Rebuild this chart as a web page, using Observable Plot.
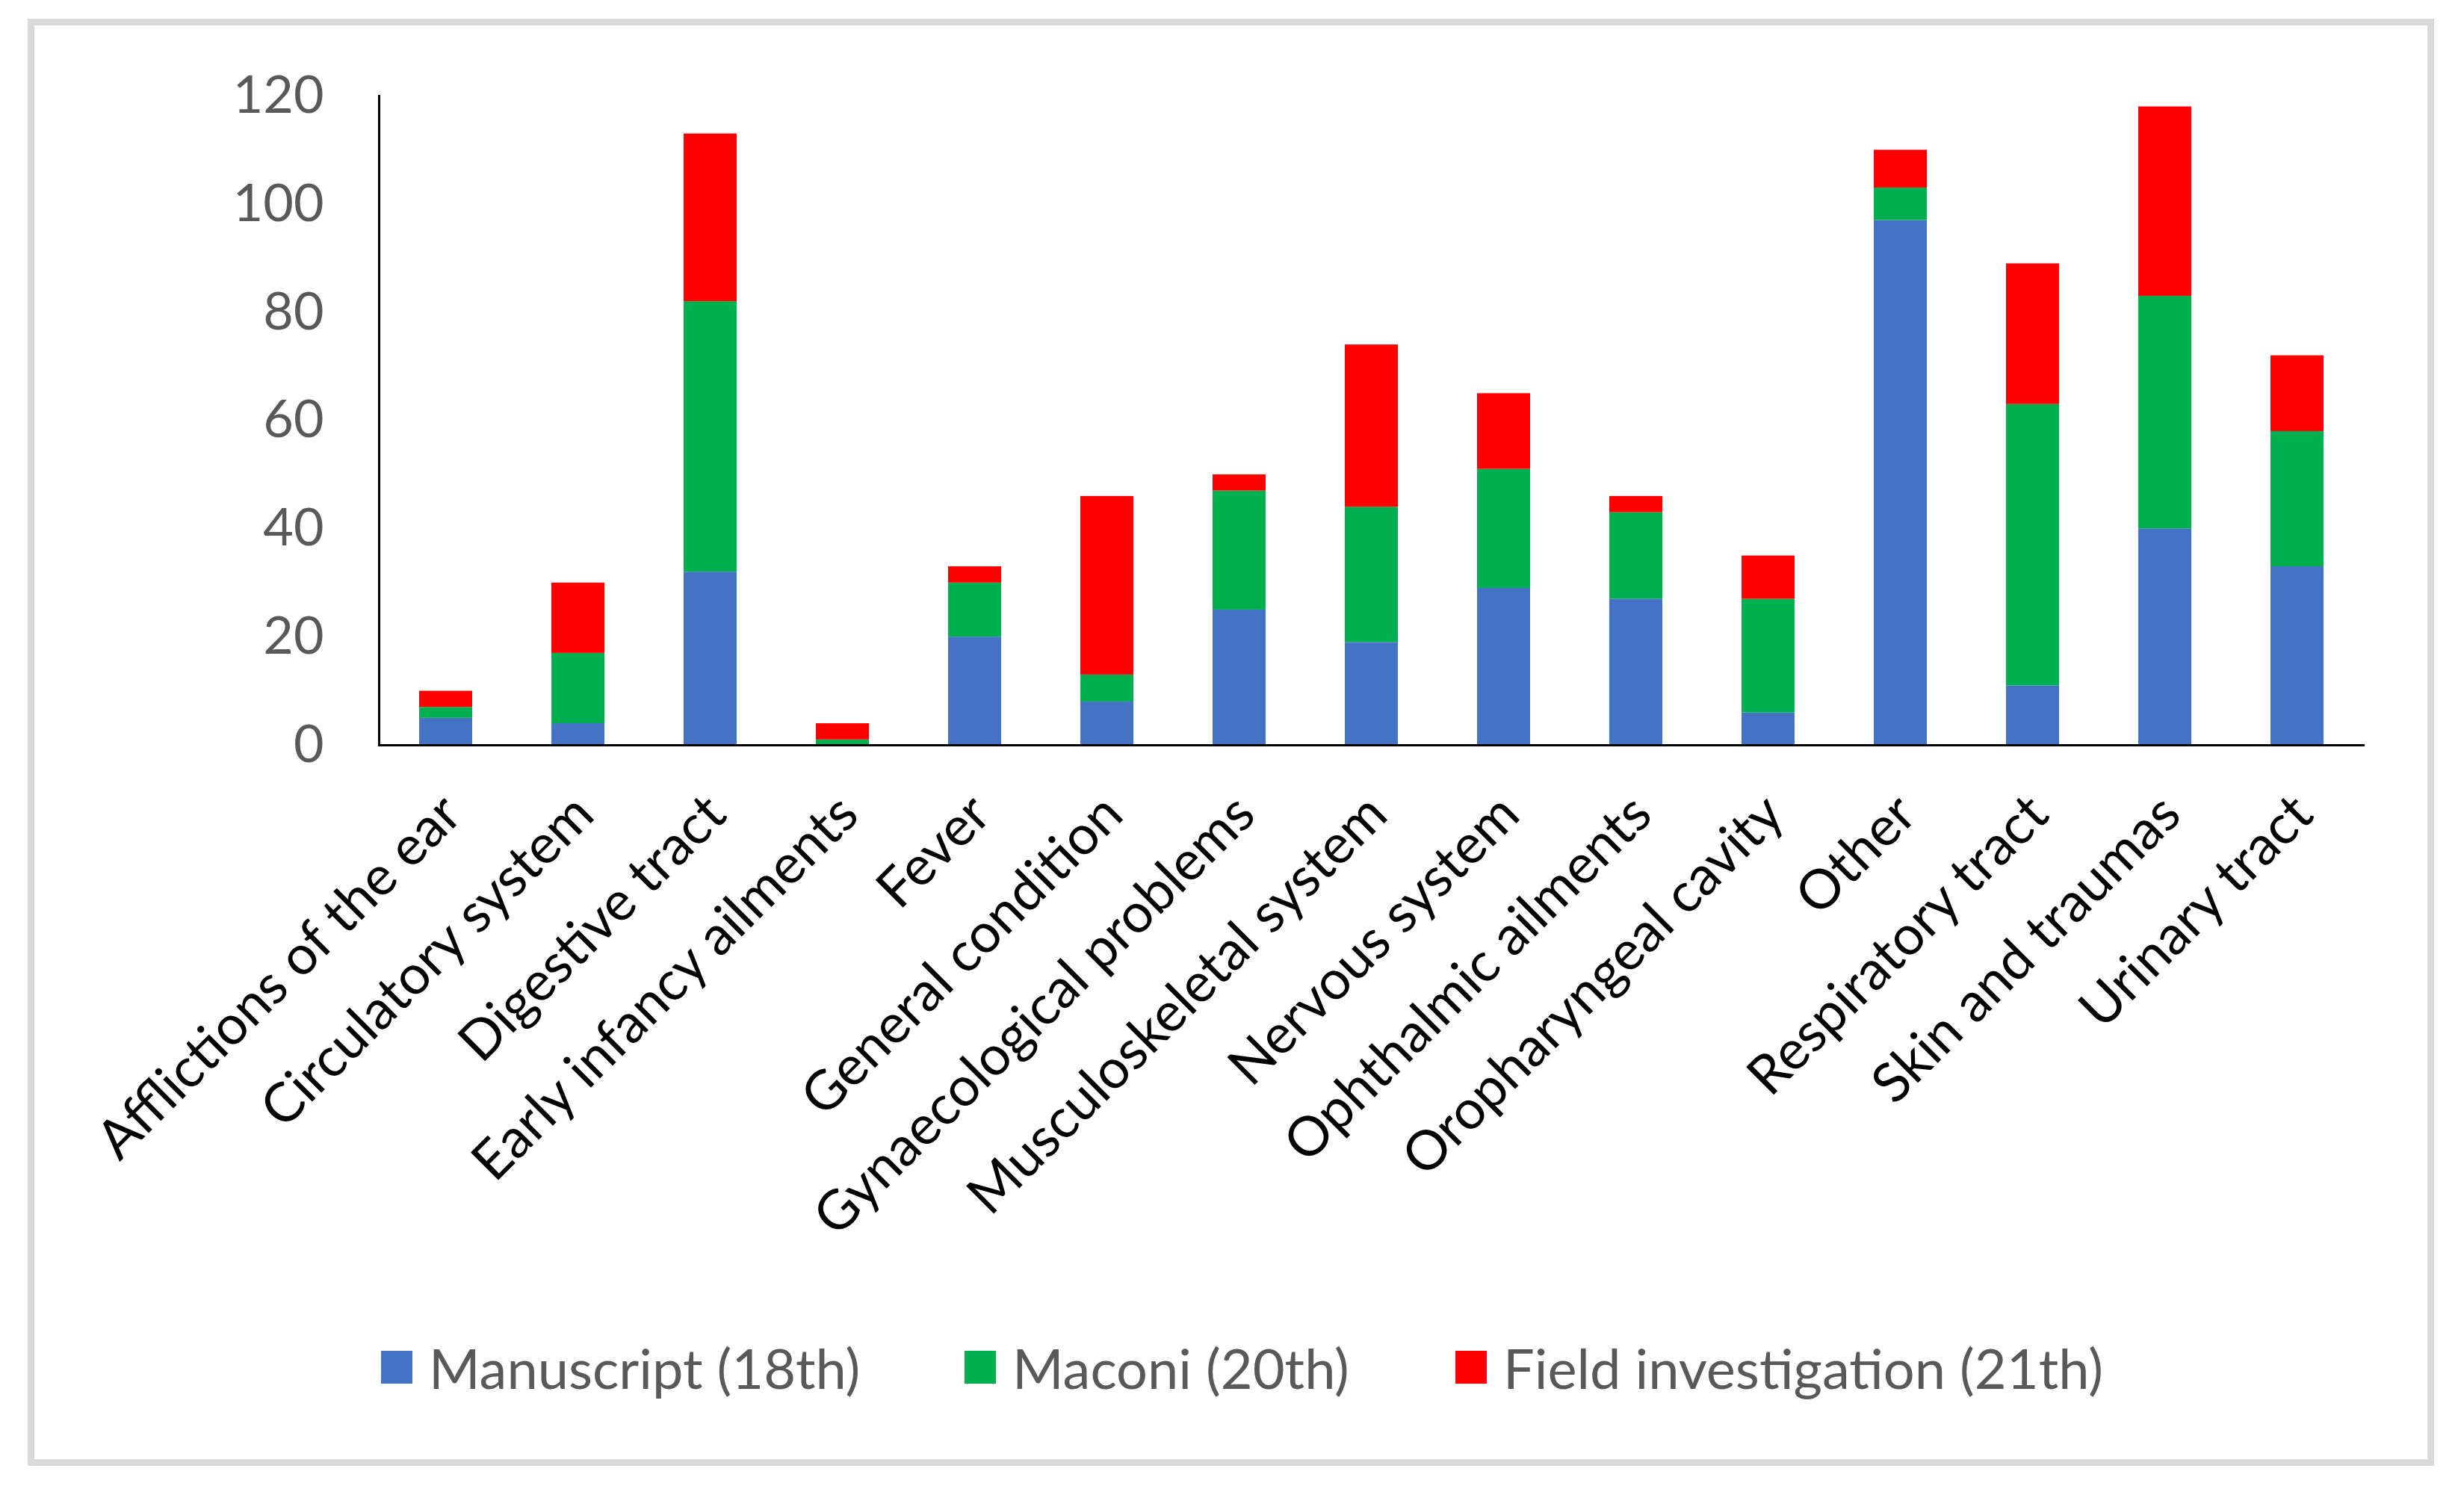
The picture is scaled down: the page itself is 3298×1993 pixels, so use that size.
<!DOCTYPE html>
<html>
<head>
<meta charset="utf-8">
<script src="https://cdn.jsdelivr.net/npm/d3@7"></script>
<script src="https://cdn.jsdelivr.net/npm/@observablehq/plot@0.6"></script>
<style>
  html, body { margin: 0; padding: 0; background: #fff; }
  #page { position: relative; width: 3298px; height: 1993px; overflow: hidden; font-family: Lato, "Open Sans", sans-serif; }
  #frame { position: absolute; left: 37px; top: 25px; width: 3221px; height: 1937px; box-sizing: border-box; border: 9px solid #d9d9d9; }
  #chart { position: absolute; left: 0; top: 0; }
  .leg { position: absolute; top: 1786px; height: 88px; display: flex; align-items: center; font-size: 74px; color: #595959; white-space: nowrap; }
  .sw { width: 42px; height: 44px; margin-right: 22px; }
</style>
</head>
<body>
<div id="page">
  <div id="frame"></div>
  <div id="chart"></div>
  <div id="legend"></div>
</div>
<script>
const categories = [
  "Afflictions of the ear", "Circulatory system", "Digestive tract", "Early infancy ailments",
  "Fever", "General condition", "Gynaecological problems", "Musculoskeletal system",
  "Nervous system", "Ophthalmic ailments", "Oropharyngeal cavity", "Other",
  "Respiratory tract", "Skin and traumas", "Urinary tract"
];
const seriesNames = ["Manuscript (18th)", "Maconi (20th)", "Field investigation (21th)"];
const seriesColors = ["#4472C4", "#00B050", "#FF0000"];
const manuscript = [5, 4, 32, 0, 20, 8, 25, 19, 29, 27, 6, 97, 11, 40, 33];
const maconi     = [2, 13, 50, 1, 10, 5, 22, 25, 22, 16, 21, 6, 52, 43, 25];
const field      = [3, 13, 31, 3, 3, 33, 3, 30, 14, 3, 8, 7, 26, 35, 14];
const yTicks = [0, 20, 40, 60, 80, 100, 120];

const seriesValues = [manuscript, maconi, field];
const data = [];
seriesNames.forEach((s, si) => {
  categories.forEach((c, ci) => {
    data.push({category: c, series: s, value: seriesValues[si][ci]});
  });
});

const chart = Plot.plot({
  width: 3298,
  height: 1760,
  marginTop: 128,
  marginBottom: 763,
  marginLeft: 507,
  marginRight: 135,
  style: {fontFamily: "Lato, 'Open Sans', sans-serif", background: "transparent"},
  x: {domain: categories, paddingInner: 0.6, paddingOuter: 0.3, label: null},
  y: {domain: [0, 120], label: null},
  color: {domain: seriesNames, range: seriesColors},
  marks: [
    Plot.barY(data, {x: "category", y: "value", fill: "series", order: null}),
    Plot.axisY({ticks: yTicks, tickSize: 0, tickPadding: 74, fontSize: 70, fill: "#595959", label: null}),
    Plot.axisX({tickSize: 0, tickRotate: -45, tickPadding: 80, dx: 8, fontSize: 73, fill: "#000", label: null}),
    Plot.frame({anchor: "left", stroke: "#000", strokeWidth: 3}),
    Plot.frame({anchor: "bottom", stroke: "#000", strokeWidth: 3})
  ]
});
document.getElementById("chart").appendChild(chart);

const legendLefts = [510, 1291, 1948];
const legend = document.getElementById("legend");
seriesNames.forEach((s, i) => {
  const item = document.createElement("div");
  item.className = "leg";
  item.style.left = legendLefts[i] + "px";
  const sw = document.createElement("div");
  sw.className = "sw";
  sw.style.background = seriesColors[i];
  const t = document.createElement("span");
  t.textContent = s;
  item.appendChild(sw);
  item.appendChild(t);
  legend.appendChild(item);
});
</script>
</body>
</html>
